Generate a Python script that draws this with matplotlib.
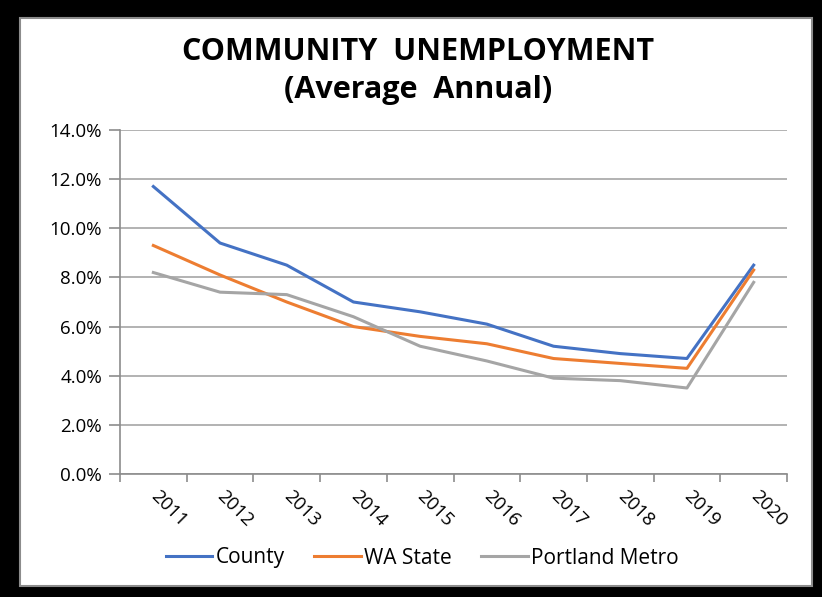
import matplotlib.pyplot as plt
from matplotlib.patches import Rectangle
from matplotlib.ticker import FuncFormatter, FixedLocator

years = ['2011', '2012', '2013', '2014', '2015', '2016', '2017', '2018', '2019', '2020']
county = [11.7, 9.4, 8.5, 7.0, 6.6, 6.1, 5.2, 4.9, 4.7, 8.5]
wa_state = [9.3, 8.1, 7.0, 6.0, 5.6, 5.3, 4.7, 4.5, 4.3, 8.3]
portland_metro = [8.2, 7.4, 7.3, 6.4, 5.2, 4.6, 3.9, 3.8, 3.5, 7.8]

W, H = 822, 597
fig = plt.figure(figsize=(W / 100, H / 100), dpi=100, facecolor='black')
plt.rcParams['font.family'] = ['Open Sans', 'DejaVu Sans']

# white chart panel inside the dark frame
panel = Rectangle((20 / W, 1 - 586 / H), (812 - 20) / W, (586 - 18) / H,
                  transform=fig.transFigure, facecolor='white',
                  edgecolor='#8c8c8c', linewidth=1.5, zorder=-5)
fig.patches.append(panel)

ax = fig.add_axes([120 / W, 1 - 474 / H, (787 - 120) / W, (474 - 130) / H])
ax.set_facecolor('none')

x = list(range(len(years)))
ax.plot(x, county, color='#4472C4', linewidth=2.2, label='County')
ax.plot(x, wa_state, color='#ED7D31', linewidth=2.2, label='WA State')
ax.plot(x, portland_metro, color='#A5A5A5', linewidth=2.2, label='Portland Metro')

ax.set_xlim(-0.5, len(years) - 0.5)
ax.set_ylim(0, 14)
ax.set_yticks([0, 2, 4, 6, 8, 10, 12, 14])
ax.yaxis.set_major_formatter(FuncFormatter(lambda v, p: f'{v:.1f}%'))
ax.grid(axis='y', color='#a6a6a6', linewidth=1.2)
ax.set_axisbelow(True)

# category ticks sit between the years, labels at the points
ax.xaxis.set_major_locator(FixedLocator([i - 0.5 for i in range(len(years) + 1)]))
ax.xaxis.set_major_formatter(FuncFormatter(lambda v, p: ''))
ax.xaxis.set_minor_locator(FixedLocator(x))
ax.set_xticklabels(years, minor=True)
ax.tick_params(axis='x', which='major', length=6, color='#8c8c8c', width=1.2)
ax.tick_params(axis='x', which='minor', length=0, pad=14, labelsize=13.5)
for lbl in ax.get_xticklabels(minor=True):
    lbl.set_rotation(-45)
    lbl.set_ha('left')
    lbl.set_va('center')
    lbl.set_rotation_mode('anchor')
ax.tick_params(axis='y', length=8, color='#8c8c8c', width=1.2, labelsize=13.5, pad=5)

for side in ['top', 'right']:
    ax.spines[side].set_visible(False)
for side in ['left', 'bottom']:
    ax.spines[side].set_color('#8c8c8c')
    ax.spines[side].set_linewidth(1.2)

fig.text(418 / W, 1 - 52 / H, 'COMMUNITY  UNEMPLOYMENT', ha='center', va='center',
         fontsize=22, fontweight='bold')
fig.text(418 / W, 1 - 90 / H, '(Average  Annual)', ha='center', va='center',
         fontsize=22, fontweight='bold')

fig.legend(loc='center', bbox_to_anchor=(422 / W, 1 - 558 / H), ncol=3, frameon=False,
           fontsize=15, handlelength=2.25, handletextpad=0.15, columnspacing=1.4)

fig.savefig('out.png', dpi=100, facecolor='black')
